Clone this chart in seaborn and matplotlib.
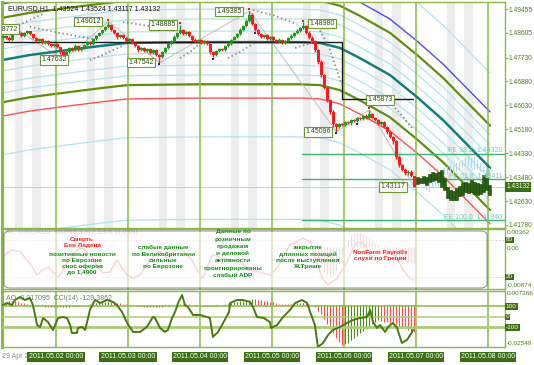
import matplotlib
matplotlib.use("Agg")
import matplotlib.pyplot as plt
from matplotlib.patches import FancyBboxPatch
import numpy as np
import seaborn as sns

# ---------------- data: EURUSD H1, bar 0 = 29 Apr 06:00 ----------------
FIRST_OPEN = 1.4842
CLOSES = [
    1.4850, 1.4843, 1.4836, 1.4857, 1.4868, 1.4860, 1.4850, 1.4860, 1.4866, 1.4855,
    1.4843, 1.4832, 1.4839, 1.4825, 1.4832, 1.4821, 1.4814, 1.4821, 1.4810, 1.4793,
    1.4778, 1.4793, 1.4807, 1.4800, 1.4814, 1.4800, 1.4807, 1.4818, 1.4828, 1.4821,
    1.4839, 1.4850, 1.4860, 1.4871, 1.4882, 1.4889, 1.4871, 1.4860, 1.4846, 1.4853,
    1.4843, 1.4832, 1.4839, 1.4825, 1.4814, 1.4800, 1.4807, 1.4796, 1.4803, 1.4789,
    1.4800, 1.4782, 1.4775, 1.4793, 1.4807, 1.4821, 1.4832, 1.4846, 1.4860, 1.4871,
    1.4857, 1.4864, 1.4850, 1.4836, 1.4828, 1.4836, 1.4825, 1.4832, 1.4821, 1.4793,
    1.4782, 1.4796, 1.4803, 1.4800, 1.4814, 1.4821, 1.4836, 1.4846, 1.4857, 1.4871,
    1.4885, 1.4903, 1.4924, 1.4892, 1.4871, 1.4857, 1.4846, 1.4853, 1.4839, 1.4846,
    1.4836, 1.4828, 1.4836, 1.4825, 1.4832, 1.4843, 1.4850, 1.4860, 1.4867, 1.4878,
    1.4885, 1.4860, 1.4843, 1.4832, 1.4800, 1.4757, 1.4711, 1.4665, 1.4622, 1.4580,
    1.4537, 1.4526, 1.4537, 1.4533, 1.4544, 1.4540, 1.4551, 1.4547, 1.4558, 1.4555,
    1.4565, 1.4558, 1.4572, 1.4558, 1.4551, 1.4537, 1.4544, 1.4526, 1.4508, 1.4491,
    1.4475, 1.4420, 1.4390, 1.4375, 1.4362, 1.4368, 1.43524, 1.43132]
HIGH_WICK = [  # pips above the body
    4, 3, 5, 6, 9, 3, 4, 5, 6, 3,   2, 4, 3, 5, 3, 4, 2, 3, 4, 2,
    3, 5, 4, 3, 6, 2, 4, 3, 5, 4,   3, 2, 4, 5, 3, 12, 4, 3, 5, 3,
    4, 2, 3, 4, 3, 5, 2, 4, 3, 3,   4, 2, 3, 3, 5, 4, 3, 6, 4, 18,
    5, 3, 4, 3, 5, 2, 4, 3, 3, 5,   4, 3, 5, 3, 4, 6, 3, 5, 4, 6,
    5, 7, 15, 6, 4, 5, 3, 4, 5, 3,  4, 3, 5, 3, 4, 3, 5, 4, 6, 5,
    13, 4, 6, 5, 3, 4, 6, 5, 4, 5,  6, 4, 5, 3, 4, 5, 3, 4, 3, 5,
    4, 6, 15, 4, 3, 5, 4, 3, 5, 6,  4, 5, 6, 3, 5, 4, 6, 0]
LOW_WICK = [  # pips below the body
    3, 5, 4, 3, 2, 4, 5, 3, 4, 3,   5, 4, 3, 4, 5, 3, 4, 5, 3, 6,
    15, 4, 3, 5, 4, 3, 4, 3, 5, 4,  3, 4, 2, 3, 4, 3, 5, 4, 6, 3,
    4, 5, 3, 4, 5, 6, 3, 4, 5, 4,   5, 4, 21, 5, 3, 4, 3, 2, 3, 4,
    4, 3, 5, 4, 3, 5, 4, 3, 5, 6,   8, 5, 4, 3, 5, 4, 3, 2, 3, 4,
    3, 4, 5, 3, 4, 5, 3, 4, 5, 3,   4, 5, 3, 4, 5, 3, 4, 3, 2, 3,
    3, 4, 5, 6, 8, 6, 7, 5, 6, 8,   10, 16, 4, 5, 3, 4, 5, 3, 4, 5,
    4, 3, 5, 4, 5, 3, 4, 5, 6, 5,   8, 6, 5, 4, 6, 5, 4, 1.5]

# forecast bars drawn after the last candle (bars 138..162 and 141..162)
GHOST_HI = [1.4349, 1.4345, 1.4352, 1.4349, 1.4359, 1.4366, 1.4363, 1.4366, 1.4374, 1.4345,
            1.4313, 1.4302, 1.4299, 1.4310, 1.4317, 1.4327, 1.4331, 1.4327, 1.4338, 1.4331,
            1.4327, 1.4324, 1.4356, 1.4345, 1.4320]
GHOST_LO = [1.4324, 1.4327, 1.4327, 1.4320, 1.4331, 1.4334, 1.4338, 1.4331, 1.4313, 1.4302,
            1.4274, 1.4267, 1.4267, 1.4267, 1.4281, 1.4285, 1.4295, 1.4292, 1.4295, 1.4288,
            1.4285, 1.4288, 1.4295, 1.4302, 1.4285]
LB_HI = [1.4349, 1.4345, 1.4352, 1.4356, 1.4352, 1.4366, 1.4381, 1.4384, 1.4391, 1.4388, 1.4398,
         1.4402, 1.4409, 1.4416, 1.4420, 1.4413, 1.4420, 1.4409, 1.4398, 1.4384, 1.4388, 1.4381]
LB_LO = [1.4302, 1.4295, 1.4310, 1.4317, 1.4313, 1.4338, 1.4356, 1.4359, 1.4366, 1.4359, 1.4366,
         1.4374, 1.4381, 1.4384, 1.4388, 1.4381, 1.4374, 1.4374, 1.4366, 1.4363, 1.4359, 1.4356]

# moving-average centre line of the envelope set
CENTER_BARS = [-0.5, 8.8, 18.8, 32.2, 41.2, 65.5, 98.8, 105.5, 112.2, 118.8, 128.8, 137.8, 146.5, 162.2]
CENTER_VALS = [1.4764, 1.4782, 1.4796, 1.4814, 1.4825, 1.4828, 1.4828, 1.4825, 1.4807, 1.4771,
               1.4711, 1.4633, 1.4551, 1.4381]
BAND_OFFSETS = [0.0039, 0.0082, 0.0117, 0.0150, 0.0199, 0.0337, 0.0630]

BLACK_BARS = [-0.5, 112.8, 112.8, 136.5]
BLACK_VALS = [1.4828, 1.4828, 1.4626, 1.4626]

ZZ_BARS = [4, 20, 35, 52, 82, 111, 122, 137]
ZZ_VALS = [1.48772, 1.47632, 1.49012, 1.47542, 1.49385, 1.45096, 1.45873, 1.43117]

SAR_BARS = [1.5, 7.2, 13.8, None, 8.8, 18.8, 29.8, None, 28.8, 33.8, 39.5, None,
            39.8, 48.8, 57.2, None, 58.8, 62.2, 64.8, None, 74.8, 78.8, 83.8, None,
            83.2, 90.5, 97.8, None, 97.2, 100.5, 103.8, None, 104.8, 108.2, 110.5, 112.8, None,
            130.5, 133.2, 136.2]
SAR_VALS = [1.4864, 1.4899, 1.4931, None, 1.4882, 1.4860, 1.4839, None, 1.4764, 1.4786, 1.4814, None,
            1.4899, 1.4885, 1.4867, None, 1.4771, 1.4793, 1.4818, None, 1.4771, 1.4793, 1.4825, None,
            1.4942, 1.4921, 1.4892, None, 1.4807, 1.4818, 1.4828, None, 1.4882, 1.4818, 1.4747, 1.4675, None,
            1.4594, 1.4562, 1.4523]

UP_FRACTALS = [4, 35, 59, 82, 100, 122]
DOWN_FRACTALS = [20, 52, 70, 84, 90, 111, 118]

EXTREME_TEXT = ["1.48772", "1.47632", "1.49012", "1.47542", "1.48885", "1.49385",
                "1.48980", "1.45096", "1.45873", "1.43117"]
EXTREME_BARS = [0.6, 16.8, 28.2, 45.8, 53.2, 75.2, 106.2, 104.8, 125.5, 129.8]
EXTREME_VALS = [1.48744, 1.47643, 1.49011, 1.47554, 1.48887, 1.49366, 1.48940, 1.45085, 1.46222, 1.43131]

FE_NAMES = ["FE 38.2", "FE 61.8", "FE 100.0"]
FE_LEVELS = [1.44320, 1.43411, 1.41940]
FE_START = 99.5

LAST_PRICE = 1.43132
PRICE_TICKS = [1.49455, 1.48605, 1.47730, 1.46880, 1.46030, 1.45180, 1.44330, 1.43480, 1.42630, 1.41780]

DAY_BARS = [17.5, 41.5, 65.5, 89.5, 113.5, 137.5, 161.5]
DAY_LABELS = ["2011.05.02 00:00", "2011.05.03 00:00", "2011.05.04 00:00", "2011.05.05 00:00",
              "2011.05.06 00:00", "2011.05.07 00:00", "2011.05.08 00:00"]
FIRST_TIME_LABEL = "29 Apr 2"

# stochastic (panel 2) and AC tail
STOCH_BARS = [-0.5, 1.2, 3.2, 5.5, 7.8, 9.8, 11.2, 12.8, 14.8, 16.5, 18.2, 19.5, 21.2, 22.8, 24.5,
              26.2, 27.8, 29.8, 31.5, 33.2, 35.5, 37.8, 39.5, 41.2, 43.2, 45.5, 47.8, 49.8, 52.2,
              54.5, 56.5, 58.8, 61.2, 63.2, 65.5, 66.5, 68.2, 69.8, 72.2, 75.5, 78.8, 82.2, 85.5,
              88.8, 91.2, 93.2, 95.5, 97.8, 99.8, 102.2, 104.5, 106.2, 108.2, 111.2, 114.5, 116.5,
              118.2, 120.5, 122.2, 124.5, 126.5, 128.8, 131.2, 132.8, 134.5, 136.5]
STOCH_VALS = [51, 59, 64, 61, 48, 35, 23, 31, 36, 28, 20, 28, 44, 52, 64,
              67, 61, 51, 35, 27, 28, 48, 35, 23, 18, 23, 40, 52, 61,
              51, 59, 67, 56, 44, 23, 18, 40, 56, 52, 48, 44, 31, 28,
              23, 35, 51, 72, 77, 83, 77, 44, 18, 7, 18, 44, 67,
              77, 72, 56, 44, 51, 61, 51, 35, 23, 15]
AC_START = 100
AC_VALS = [0.3, 0.2, -0.2, -0.8, -1.8, -3.0, -4.2, -5.2, -5.8, -6.0, -5.6, -4.8, -3.4, -1.8, -0.2,
           1.2, 2.2, 2.8, 3.0, 2.9, 2.6, 2.2, 1.8, 1.2, 0.8, 0.4, 0.0, -0.4, -0.8, -1.2, -1.6,
           -2.0, -2.4, -2.8, -3.0, -3.2, -3.3, -3.4]  # x 0.001

# AO histogram (x 0.001) and CCI(14) for panel 3
AO_VALS = [1.5, 2.0, 2.5, 2.8, 2.5, 2.0, 1.5, 1.0, 0.6, 0.3, 0.0, -0.3, -0.6, -0.8, -1.0, -1.1,
           -1.2, -1.3, -1.4, -1.5, -1.4, -1.2, -1.0, -0.8, -0.6, -0.4, -0.2, 0.0, 0.3, 0.6, 0.9,
           1.2, 1.5, 1.8, 2.0, 2.1, 2.0, 1.8, 1.5, 1.2, 0.9,
           0.6, 0.3, 0.0, -0.3, -0.6, -0.9, -1.1, -1.3, -1.4, -1.5, -1.4, -1.2, -1.0, -0.7, -0.4,
           -0.1, 0.2, 0.5, 0.7, 0.8, 0.7, 0.5, 0.3, 0.1, -0.1, -0.3, -0.4, -0.5, -0.6, -0.6,
           -0.5, -0.3, 0.0, 0.4, 0.8, 1.2, 1.6, 2.0, 2.4, 2.8, 3.1, 3.4, 3.6, 3.6, 3.4,
           3.1, 2.8, 2.4, 2.0, 1.6, 1.2, 0.9, 0.7, 0.6, 0.6, 0.7, 0.9, 1.1, 1.3, 1.4,
           1.2, 0.8, 0.0, -1.5, -3.5, -6.0, -9.0, -12.0, -15.0, -18.0, -21.0, -23.5, -25.5,
           -25.0, -24.0, -22.5, -21.0, -19.5, -18.0, -16.5, -15.0, -13.5, -12.0, -10.5, -9.5,
           -10.0, -10.5, -11.0, -11.5, -12.0, -12.5, -13.5, -14.5, -15.5, -16.0, -16.5, -17.1]
CCI_BARS = [-0.2, 1.2, 2.8, 3.8, 5.5, 7.2, 8.8, 9.8, 11.2, 12.2, 13.2, 14.8, 16.5, 18.2, 19.8,
            21.2, 22.2, 22.8, 24.5, 24.8, 26.2, 27.2, 28.2, 28.8, 30.5, 32.2, 34.5, 36.5, 37.8,
            39.5, 41.2, 43.2, 45.5, 47.8, 49.8, 50.5, 52.2, 53.8, 54.8, 56.2, 57.2, 58.2, 59.5,
            60.5, 61.5, 63.2, 65.5, 67.8, 68.8, 69.8, 71.5, 73.2, 75.2, 75.5, 77.8, 79.8, 82.2,
            83.2, 84.5, 86.8, 88.8, 89.2, 91.2, 93.2, 95.5, 97.2, 99.5, 101.2, 102.2, 103.8,
            104.8, 106.5, 108.2, 109.8, 112.2, 114.5, 116.5, 118.8, 121.2, 122.2, 123.2, 124.5,
            125.5, 127.2, 128.2, 129.8, 131.2, 132.8, 134.5, 136.2, 136.5]
CCI_VALS = [114, 133, 114, 162, 190, 162, 181, 114, -76, -95, -10, -48, -124, -10, 0,
            -10, -76, -152, -152, -105, -95, -124, -10, 67, 162, 133, 162, 143, 114,
            48, -57, -143, -143, -95, 0, -10, -105, -143, -124, -10, 48, 133, 209,
            114, 95, 19, 19, 0, -10, -190, -143, -57, 48, 133, 162, 162, 143,
            95, 0, -10, -48, -105, -76, 0, 67, 133, 162, 133, 48, -76,
            -286, -248, -171, -124, -95, -57, -29, -10, 0, 67, -48, -105,
            -76, -143, -95, -57, -105, -248, -219, -143, -124]

# ---------------- layout helpers ----------------
W, H = 534, 365
GREEN = "#8cb848"
LABEL_GREEN = "#4f7f1a"
BOX_GREEN = "#3c6e14"

sns.set_theme(style="white")
plt.rcParams["font.family"] = ["Liberation Sans", "DejaVu Sans"]
plt.rcParams["axes.linewidth"] = 1.0

fig = plt.figure(figsize=(W / 100, H / 100), dpi=100)
fig.patch.set_facecolor("white")


def px_axes(x0, y0, x1, y1):
    return fig.add_axes([x0 / W, 1 - y1 / H, (x1 - x0) / W, (y1 - y0) / H])


XLIM = (-0.5, 167.17)


def style_panel(ax):
    ax.set_xlim(*XLIM)
    ax.set_xticks([])
    ax.set_facecolor("white")
    for sp in ax.spines.values():
        sp.set_color(GREEN)
        sp.set_linewidth(1.0)
    ax.spines["left"].set_linewidth(2.2)
    for d in DAY_BARS:
        ax.axvline(d, color=GREEN, lw=1.1, zorder=1.2)


# ---------------- main price panel ----------------
ax = px_axes(2, 2, 505, 228)
style_panel(ax)
ax.set_ylim(1.41673, 1.49704)

for d in DAY_BARS + [185.5]:
    for a, b in [(-13.7, -11.0), (-8.0, -5.0)]:
        ax.axvspan(d + a, d + b, color="#ededed", lw=0, zorder=0.2)

center = np.array(CENTER_VALS)
for i, off in enumerate(BAND_OFFSETS):
    if i == 3:
        up_col = lo_col = "#5f8f0f"; lw = 1.6
    elif i == 4:
        up_col, lo_col, lw = "#4a4aff", "#ff5050", 1.0
    else:
        up_col = lo_col = "#ade5ee"; lw = 0.9
    sns.lineplot(x=CENTER_BARS, y=center + off, ax=ax, color=up_col, lw=lw, zorder=0.8)
    sns.lineplot(x=CENTER_BARS, y=center - off, ax=ax, color=lo_col, lw=lw, zorder=0.8)

ax.axhline(LAST_PRICE, color="#c4c4c4", lw=0.6, zorder=0.9)
for lvl in FE_LEVELS:
    ax.plot([FE_START, XLIM[1]], [lvl, lvl], color="#3cb371", lw=1.0, zorder=1.0)
for name, lvl in zip(FE_NAMES, FE_LEVELS):
    ax.annotate(f"{name}: {lvl:.5f}", xy=(166.3, lvl), xytext=(0, 2.2), textcoords="offset points",
                ha="right", va="center", fontsize=5, color="#6ccfb8", zorder=6)

ax.plot(ZZ_BARS, ZZ_VALS, color="#bdbdbd", lw=0.7, zorder=1.1)
sns.lineplot(x=CENTER_BARS, y=center, ax=ax, color="#117f80", lw=1.8, zorder=1.4)
ax.plot(BLACK_BARS, BLACK_VALS, color="#1a1a1a", lw=1.0, zorder=1.5)

sar_x = np.array([np.nan if v is None else v for v in SAR_BARS], dtype=float)
sar_y = np.array([np.nan if v is None else v for v in SAR_VALS], dtype=float)
ax.plot(sar_x, sar_y, color="#8a8a8a", lw=1.3, linestyle=(0, (0.8, 1.5)), zorder=1.6)

# candles
closes = np.array(CLOSES)
opens = np.concatenate([[FIRST_OPEN], closes[:-1]])
bars = np.arange(len(closes))
highs = np.maximum(opens, closes) + np.array(HIGH_WICK) * 1e-4
lows = np.minimum(opens, closes) - np.array(LOW_WICK) * 1e-4
cols = np.where(closes >= opens, "#1f9a1f", "#ff1a1a")
ax.vlines(bars, lows, highs, colors=cols, lw=1.0, zorder=3)
body = np.maximum(np.abs(closes - opens), 0.00014)
ax.bar(bars, body, bottom=np.minimum(opens, closes), width=0.75, color=cols, lw=0, zorder=3.1)

gbars = np.arange(138, 138 + len(GHOST_HI))
ax.bar(gbars, np.array(GHOST_HI) - np.array(GHOST_LO), bottom=GHOST_LO, width=0.7,
       color="#2b6212", edgecolor="#163d08", lw=0.4, zorder=2.9)
lbars = np.arange(141, 141 + len(LB_HI))
ax.bar(lbars, np.array(LB_HI) - np.array(LB_LO), bottom=LB_LO, width=0.45,
       color="#a6dcef", lw=0, zorder=2.8)

ax.scatter(UP_FRACTALS, highs[UP_FRACTALS] + 0.0005, marker="s", s=2.5, color="#e02020", zorder=3.3, lw=0)
ax.scatter(DOWN_FRACTALS, lows[DOWN_FRACTALS] - 0.0005, marker="s", s=2.5, color="#1a2a9a", zorder=3.3, lw=0)

for txt, b, v in zip(EXTREME_TEXT, EXTREME_BARS, EXTREME_VALS):
    ax.text(b, v, txt, fontsize=5, color="#2f4f10", ha="center", va="center", zorder=6, clip_on=True,
            bbox=dict(boxstyle="square,pad=0.18", fc="white", ec="#6c9a2c", lw=0.8))

ax.text(0.012, 0.988, "EURUSD,H1  1.43524 1.43524 1.43117 1.43132", transform=ax.transAxes,
        fontsize=5, va="top", ha="left", color="#111111", zorder=7)

ax.yaxis.tick_right()
ax.set_yticks(PRICE_TICKS)
ax.set_yticklabels([f"{v:.5f}" for v in PRICE_TICKS])
ax.tick_params(axis="y", right=True, length=2, width=0.8, color=GREEN, labelsize=4.8,
               labelcolor=LABEL_GREEN, pad=0.8)
ax.annotate(f"{LAST_PRICE:.5f}", xy=(1.0, LAST_PRICE), xycoords=("axes fraction", "data"),
            xytext=(1.0, 0), textcoords="offset points", ha="left", va="center", fontsize=4.8,
            color="white", annotation_clip=False,
            bbox=dict(boxstyle="square,pad=0.2", fc=BOX_GREEN, ec="none"))

# ---------------- panel 2: AC + Stochastic with news box ----------------
ax2 = px_axes(2, 229, 505, 289)
style_panel(ax2)
ax2.set_yticks([])
ax2.set_ylim(0.5, 97.8)
for lvl in (80, 20):
    ax2.axhline(lvl, color="#e7c4c4", lw=0.6, ls=(0, (2, 2)), zorder=1)
sns.lineplot(x=STOCH_BARS, y=STOCH_VALS, ax=ax2, color="#f08c8c", lw=1.0, zorder=2)
ax2b = ax2.twinx()
ax2b.set_ylim(-0.00874, 0.00362)
ax2b.set_yticks([])
ax2b.axis("off")
ac = np.array(AC_VALS) * 1e-3
ac_bars = np.arange(AC_START, AC_START + len(ac))
ac_cols = ["#b9b9b9"] + ["#b9b9b9" if ac[i] > ac[i - 1] else "#f0a0a0" for i in range(1, len(ac))]
ax2b.vlines(ac_bars, 0, ac, colors=ac_cols, lw=0.8, zorder=1)
ax2b.set_xlim(*XLIM)

ax2.text(0.008, 0.94, "AC -0.0034020  Stoch(5,3,3) 5.5306 11.0380", transform=ax2.transAxes,
         fontsize=4.8, color="#9a9a9a", va="center", ha="left", zorder=1)

box = FancyBboxPatch((4 / W, 1 - 288 / H), (487 - 4) / W, (288 - 231) / H,
                     boxstyle="round,pad=0,rounding_size=0.012", transform=fig.transFigure,
                     fc="white", ec="#5a5a5a", lw=0.8, alpha=0.62, zorder=5)
fig.add_artist(box)

NEWS = [
    (26.2, 0.875, "Смерть\nБен Ладена", "#ff1a1a", 1.3),
    (26.2, 0.625, "позитивные новости\nпо Еврозоне\nснос оферов\nдо 1,4900", "#0f8a0f", 1.3),
    (53.2, 0.73, "слабые данные\nпо Великобритании\nсильные\nпо Еврозоне", "#0f8a0f", 1.3),
    (76.5, 0.995, "Данные по\nрозничным\nпродажам\nи деловой\nактивности\nпроигнорированы\nслабый ADP",
     "#0f8a0f", 1.55),
    (101.5, 0.73, "закрытие\nдлинных позиций\nпосле выступления\nЖ.Трише", "#0f8a0f", 1.3),
    (125.5, 0.65, "NonFarm Payrolls\nслухи по Греции", "#ff1a1a", 1.3),
]
# drawn on the figure so they sit above the translucent box
for bx, fy, txt, col, ls in NEWS:
    fig.text(bx, fy, txt, transform=ax2.get_xaxis_transform(), ha="center", va="top",
             fontsize=4.6, fontweight="bold", color=col, linespacing=ls, zorder=8)

# ---------------- panel 3: AO histogram + CCI ----------------
ax3 = px_axes(2, 291, 505, 347)
style_panel(ax3)
ax3.set_yticks([])
ax3.set_ylim(-0.0267, 0.0089)
ao = np.array(AO_VALS) * 1e-3
ao_bars = np.arange(len(ao))
ao_cols = ["#4d8a22"] + ["#4d8a22" if ao[i] > ao[i - 1] else "#ff4a4a" for i in range(1, len(ao))]
ax3.vlines(ao_bars, 0, ao, colors=ao_cols, lw=0.8, zorder=1.5)

ax3c = ax3.twinx()
ax3c.set_ylim(-286, 247.5)
ax3c.set_xlim(*XLIM)
ax3c.axis("off")
ax3c.axhline(100, color=GREEN, lw=1.1, zorder=1)
ax3c.axhline(0, color="#a9cc7c", lw=1.1, zorder=1)
ax3c.axhline(-100, color="#a9cc7c", lw=2.0, zorder=1)
sns.lineplot(x=CCI_BARS, y=CCI_VALS, ax=ax3c, color="#4a7a0c", lw=1.4, zorder=3)
ax3.text(0.008, 0.86, "AO -0.017095  CCI(14) -129.3862", transform=ax3.transAxes,
         fontsize=5, color="#6e8060", va="center", ha="left", zorder=4)


# ---------------- right scale texts of the sub panels ----------------
def right_label(axis, y, txt, boxed=False):
    kw = dict(fontsize=4.6, va="center", ha="left", annotation_clip=False,
              xycoords=("axes fraction", "data"), textcoords="offset points")
    if boxed:
        axis.annotate(txt, xy=(1.0, y), xytext=(0.5, 0), color="white",
                      bbox=dict(boxstyle="square,pad=0.15", fc=BOX_GREEN, ec="none"), **kw)
    else:
        axis.annotate(txt, xy=(1.0, y), xytext=(1.5, 0), color=LABEL_GREEN, **kw)


right_label(ax2b, 0.0030, "0.00362")
right_label(ax2, 80, "80", boxed=True)
right_label(ax2b, -0.0004, "0.00")
right_label(ax2, 20, "20", boxed=True)
right_label(ax2b, -0.0080, "-0.00874")
right_label(ax3, 0.0072, "0.007366")
right_label(ax3c, 100, "100", boxed=True)
right_label(ax3c, 0, "0", boxed=True)
right_label(ax3c, -100, "-100", boxed=True)
right_label(ax3, -0.0245, "-0.02549")

# ---------------- time axis ----------------
ax3.annotate(FIRST_TIME_LABEL, xy=(XLIM[0], 0), xycoords=("data", "axes fraction"), xytext=(0, -7.2),
             textcoords="offset points", ha="left", va="center", fontsize=5,
             color="#8c8c8c", annotation_clip=False)
for b, lab in zip(DAY_BARS, DAY_LABELS):
    ax3.annotate(lab, xy=(b, 0), xycoords=("data", "axes fraction"), xytext=(0, -7.2),
                 textcoords="offset points", ha="center", va="center", fontsize=5,
                 color="white", annotation_clip=False,
                 bbox=dict(boxstyle="square,pad=0.2", fc=BOX_GREEN, ec="none"))

fig.savefig("out.png", dpi=100, facecolor="white")
